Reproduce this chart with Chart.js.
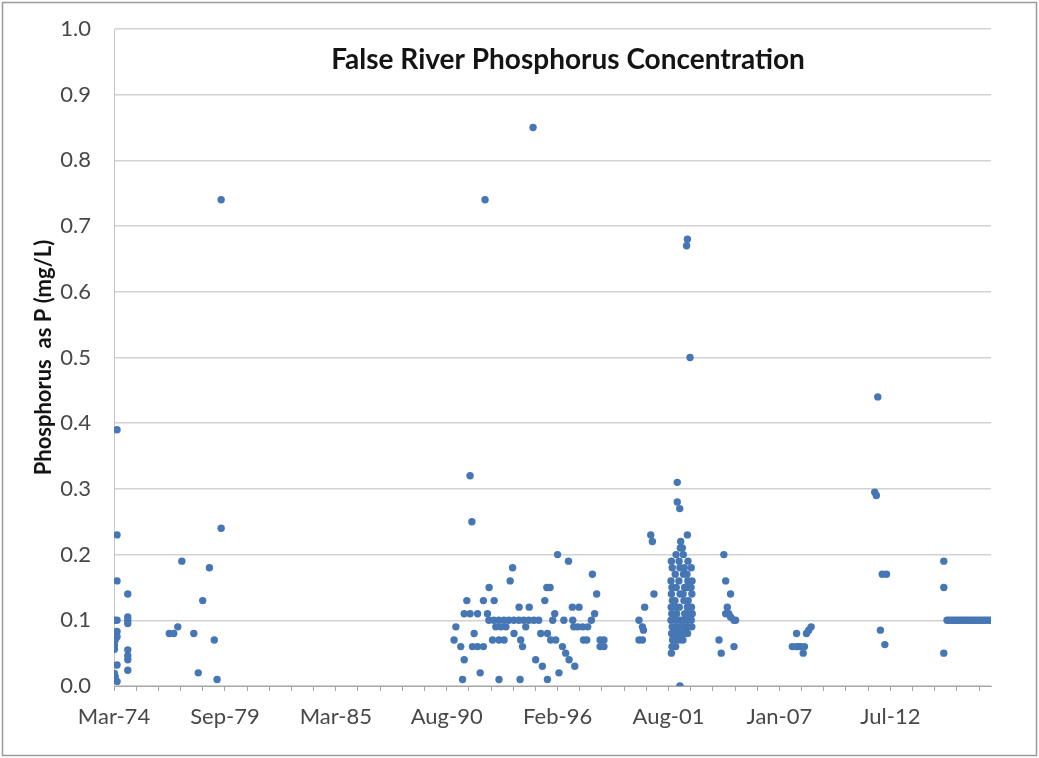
<!DOCTYPE html>
<html>
<head>
<meta charset="utf-8">
<script src="https://cdn.jsdelivr.net/npm/chart.js@4.4.0/dist/chart.umd.min.js"></script>
<style>
  html, body { margin: 0; padding: 0; background: #fff; }
</style>
</head>
<body>
<canvas id="scatter-phosphorus" width="1039" height="758"></canvas>
<script>
// sample date (decimal year), phosphorus as P (mg/L)
var samples1970s = [
  [1974.37, 0.39], [1974.37, 0.23], [1974.37, 0.16], [1974.90, 0.14], [1974.22, 0.10],
  [1974.37, 0.10], [1974.90, 0.105], [1974.90, 0.10], [1974.90, 0.095], [1974.37, 0.083],
  [1974.37, 0.075], [1974.28, 0.07], [1974.24, 0.062], [1974.24, 0.056], [1974.90, 0.055],
  [1974.90, 0.046], [1974.90, 0.04], [1974.37, 0.032], [1974.90, 0.024], [1974.24, 0.019],
  [1974.28, 0.014], [1974.37, 0.007],
  [1976.95, 0.08], [1977.17, 0.08], [1977.37, 0.09], [1977.57, 0.19], [1978.16, 0.08],
  [1978.38, 0.02], [1978.60, 0.13], [1978.93, 0.18], [1979.17, 0.07], [1979.31, 0.01],
  [1979.51, 0.24], [1979.51, 0.74]
];

var samples1990s = [
  [1991.10, 0.09], [1991.01, 0.07], [1991.34, 0.06], [1991.43, 0.01], [1991.51, 0.04],
  [1991.51, 0.11], [1991.64, 0.13], [1991.80, 0.11], [1991.80, 0.32], [1991.89, 0.25],
  [1991.92, 0.06], [1992.00, 0.08], [1992.17, 0.11], [1992.17, 0.06], [1992.30, 0.02],
  [1992.46, 0.06], [1992.46, 0.13], [1992.54, 0.74], [1992.66, 0.11], [1992.73, 0.10],
  [1992.74, 0.15], [1992.91, 0.07], [1992.97, 0.10], [1992.99, 0.13], [1993.07, 0.09],
  [1993.22, 0.10], [1993.23, 0.07], [1993.23, 0.01], [1993.32, 0.09], [1993.47, 0.10],
  [1993.48, 0.07], [1993.57, 0.09], [1993.71, 0.10], [1993.78, 0.16], [1993.90, 0.18],
  [1993.96, 0.10], [1993.97, 0.08], [1994.21, 0.10], [1994.22, 0.12], [1994.27, 0.01],
  [1994.30, 0.07], [1994.39, 0.06], [1994.45, 0.10], [1994.55, 0.09], [1994.70, 0.10],
  [1994.72, 0.12], [1994.91, 0.85], [1994.95, 0.10], [1995.04, 0.04], [1995.19, 0.10],
  [1995.29, 0.08], [1995.37, 0.03], [1995.49, 0.13], [1995.59, 0.15], [1995.62, 0.08],
  [1995.62, 0.01], [1995.75, 0.15], [1995.78, 0.07], [1995.88, 0.10], [1995.98, 0.11],
  [1996.03, 0.07], [1996.12, 0.20], [1996.19, 0.02], [1996.36, 0.06], [1996.43, 0.10],
  [1996.52, 0.05], [1996.66, 0.19], [1996.69, 0.04], [1996.85, 0.12], [1996.87, 0.10],
  [1996.92, 0.09], [1996.97, 0.03], [1997.12, 0.09], [1997.18, 0.12], [1997.36, 0.09],
  [1997.40, 0.07], [1997.56, 0.07], [1997.61, 0.09], [1997.79, 0.10], [1997.84, 0.17],
  [1997.95, 0.11], [1998.05, 0.14], [1998.22, 0.07], [1998.22, 0.06], [1998.41, 0.06],
  [1998.41, 0.07]
];

var samples2000s = [
  [2000.14, 0.10], [2000.31, 0.09], [2000.36, 0.085], [2000.14, 0.07], [2000.31, 0.07],
  [2000.42, 0.12], [2000.72, 0.23], [2000.80, 0.22], [2000.88, 0.14],
  [2002.03, 0.31], [2002.03, 0.28], [2002.15, 0.27], [2002.53, 0.68], [2002.49, 0.67],
  [2002.66, 0.50], [2002.53, 0.23], [2002.20, 0.22], [2002.28, 0.21], [2002.16, 0.00],
  [2001.74, 0.19], [2001.78, 0.18], [2001.72, 0.16], [2001.77, 0.15], [2001.74, 0.14],
  [2001.79, 0.13], [2001.73, 0.12], [2001.76, 0.11], [2001.72, 0.10], [2001.78, 0.09],
  [2001.75, 0.08], [2001.80, 0.07], [2001.77, 0.06], [2001.74, 0.05],
  [2001.97, 0.20], [2001.93, 0.17], [2001.98, 0.15], [2001.92, 0.13], [2001.96, 0.12],
  [2002.00, 0.11], [2001.94, 0.10], [2001.99, 0.09], [2001.93, 0.08], [2001.97, 0.07],
  [2001.95, 0.06],
  [2002.18, 0.21], [2002.12, 0.19], [2002.16, 0.18], [2002.11, 0.16], [2002.17, 0.14],
  [2002.13, 0.12], [2002.18, 0.10], [2002.12, 0.09], [2002.16, 0.08], [2002.14, 0.07],
  [2002.33, 0.20], [2002.38, 0.18], [2002.34, 0.17], [2002.39, 0.15], [2002.32, 0.14],
  [2002.36, 0.13], [2002.40, 0.11], [2002.33, 0.10], [2002.37, 0.09], [2002.35, 0.08],
  [2002.31, 0.07],
  [2002.56, 0.19], [2002.51, 0.17], [2002.55, 0.16], [2002.52, 0.15], [2002.57, 0.13],
  [2002.53, 0.12], [2002.58, 0.11], [2002.52, 0.10], [2002.56, 0.09], [2002.54, 0.08],
  [2002.72, 0.18], [2002.76, 0.16], [2002.71, 0.15], [2002.75, 0.14], [2002.73, 0.12],
  [2002.77, 0.11], [2002.72, 0.10], [2002.75, 0.09],
  [2004.33, 0.20], [2004.42, 0.16], [2004.66, 0.14], [2004.50, 0.12], [2004.42, 0.11],
  [2004.57, 0.11], [2004.66, 0.105], [2004.83, 0.10], [2004.91, 0.10], [2004.09, 0.07],
  [2004.83, 0.06], [2004.20, 0.05],
  [2007.71, 0.06], [2007.92, 0.06], [2008.02, 0.06], [2008.12, 0.06], [2008.31, 0.06],
  [2008.25, 0.05], [2007.92, 0.08], [2008.41, 0.08], [2008.52, 0.085], [2008.64, 0.09]
];

var samples2010s = [
  [2011.93, 0.44], [2011.78, 0.295], [2011.86, 0.29], [2012.15, 0.17], [2012.36, 0.17],
  [2012.06, 0.085], [2012.28, 0.063],
  [2015.19, 0.19], [2015.19, 0.15], [2015.19, 0.05],
  [2015.35, 0.10], [2015.47, 0.10], [2015.59, 0.10], [2015.71, 0.10], [2015.83, 0.10],
  [2015.95, 0.10], [2016.07, 0.10], [2016.19, 0.10], [2016.31, 0.10], [2016.43, 0.10],
  [2016.55, 0.10], [2016.67, 0.10], [2016.79, 0.10], [2016.91, 0.10], [2017.03, 0.10],
  [2017.15, 0.10], [2017.27, 0.10], [2017.39, 0.10], [2017.52, 0.10]
];

var months = ['Jan','Feb','Mar','Apr','May','Jun','Jul','Aug','Sep','Oct','Nov','Dec'];
var chartTitle = 'False River Phosphorus Concentration';
var yAxisTitle = 'Phosphorus  as P (mg/L)';
var minorStep = 400 / 365.25;   // 400 days
var majorEvery = 5;              // 2000 days

var allSamples = samples1970s.concat(samples1990s, samples2000s, samples2010s);
var points = allSamples.map(function (s) { return {x: s[0], y: s[1]}; });
var xMin = Math.min.apply(null, allSamples.map(function (s) { return s[0]; }));
var xMax = Math.max.apply(null, allSamples.map(function (s) { return s[0]; }));

function monthLabel(v) {
  var yr = Math.floor(v);
  var m = Math.floor((v - yr) * 12);
  return months[m] + '-' + String(yr).slice(2);
}

Chart.defaults.font.family = 'Lato, "Open Sans", sans-serif';

var frame = {
  id: 'frame',
  beforeDraw: function (chart) {
    var c = chart.ctx;
    c.save();
    c.fillStyle = '#fff';
    c.fillRect(0, 0, chart.width, chart.height);
    c.strokeStyle = '#9a9a9a';
    c.lineWidth = 1.5;
    c.strokeRect(2.5, 2.5, chart.width - 5, chart.height - 5);
    c.restore();
  },
  afterDraw: function (chart) {
    var c = chart.ctx;
    c.save();
    c.font = 'bold 28px Lato, "Open Sans", sans-serif';
    c.fillStyle = '#141414';
    c.textAlign = 'center';
    c.textBaseline = 'middle';
    c.fillText(chartTitle, 568, 60);
    c.restore();
  }
};

new Chart(document.getElementById('scatter-phosphorus'), {
  type: 'scatter',
  data: {
    datasets: [{
      label: 'Phosphorus',
      data: points,
      backgroundColor: '#4677b4',
      borderWidth: 0,
      pointRadius: 3.7,
      pointHoverRadius: 3.7
    }]
  },
  options: {
    responsive: false,
    animation: false,
    devicePixelRatio: 1,
    layout: { padding: { left: 0, right: 48, top: 29, bottom: 0 } },
    plugins: {
      legend: { display: false },
      tooltip: { enabled: false }
    },
    scales: {
      x: {
        type: 'linear',
        min: xMin,
        max: xMax,
        afterBuildTicks: function (scale) {
          var t = [];
          for (var i = 0; xMin + i * minorStep <= xMax + 1e-6; i++) {
            t.push({ value: xMin + i * minorStep });
          }
          scale.ticks = t;
        },
        afterFit: function (scale) {
          scale.height = 72;
          scale.paddingLeft = 0;
          scale.paddingRight = 0;
        },
        grid: {
          display: true,
          drawOnChartArea: false,
          drawTicks: true,
          tickLength: 5,
          color: '#a6a6a6'
        },
        border: { display: true, color: '#a6a6a6', width: 1 },
        ticks: {
          autoSkip: false,
          maxRotation: 0,
          padding: 13,
          color: '#484848',
          font: { size: 22 },
          callback: function (value, index) {
            return index % majorEvery === 0 ? monthLabel(value) : '';
          }
        }
      },
      y: {
        min: 0,
        max: 1,
        afterFit: function (scale) {
          scale.width = 114;
          scale.paddingTop = 0;
          scale.paddingBottom = 0;
        },
        grid: { color: '#d2d2d2', lineWidth: 1.5, drawTicks: false },
        border: { display: true, color: '#c4c4c4' },
        ticks: {
          stepSize: 0.1,
          padding: 23,
          color: '#484848',
          font: { size: 22 },
          callback: function (v) { return v.toFixed(1); }
        },
        title: {
          display: true,
          text: yAxisTitle,
          color: '#141414',
          font: { size: 22, weight: 'bold' },
          padding: { top: 31, bottom: 0 }
        }
      }
    }
  },
  plugins: [frame]
});
</script>
</body>
</html>
